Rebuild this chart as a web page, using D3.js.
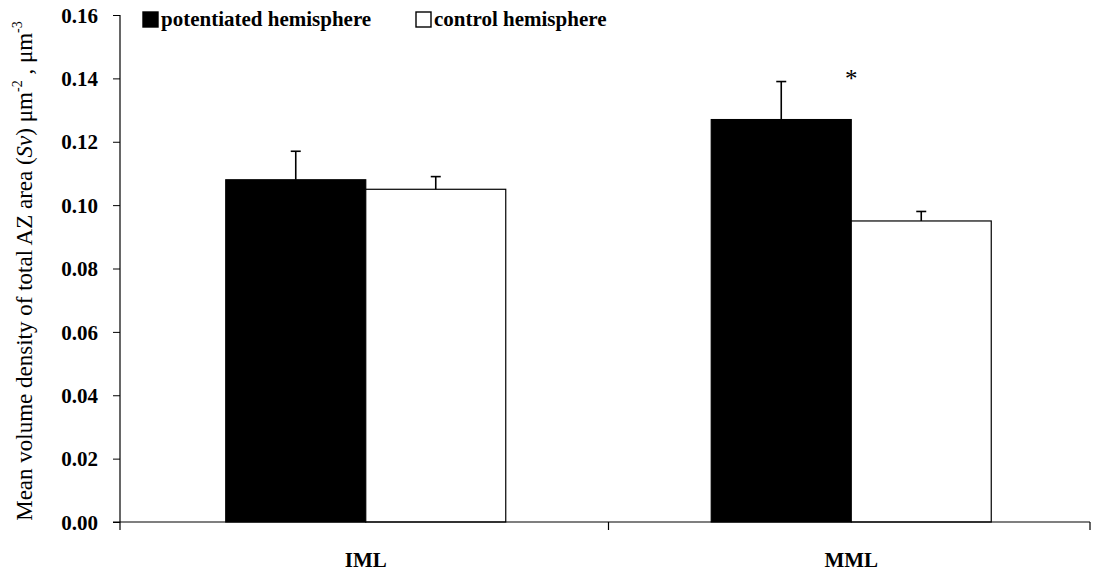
<!DOCTYPE html>
<html>
<head>
<meta charset="utf-8">
<script src="https://cdn.jsdelivr.net/npm/d3@7"></script>
<style>
  body { margin: 0; background: #fff; }
  svg { display: block; }
  text { font-family: "Liberation Serif", "Times New Roman", serif; fill: #000; }
</style>
</head>
<body>
<svg id="chart" width="1098" height="576"></svg>
<script>
// chart values
const categories = ["IML", "MML"];
const seriesNames = ["potentiated hemisphere", "control hemisphere"];
const potentiated = [0.108, 0.127];
const potentiatedErr = [0.009, 0.012];
const control = [0.105, 0.095];
const controlErr = [0.004, 0.003];
const yTickValues = [0, 0.02, 0.04, 0.06, 0.08, 0.10, 0.12, 0.14, 0.16];
const significant = [false, true];   // asterisk above the pair

const fills = ["#000", "#fff"];

const svg = d3.select("#chart");

// plot area
const plot = { left: 120, right: 1090, top: 15, bottom: 522 };

const y = d3.scaleLinear().domain([0, 0.16]).range([plot.bottom, plot.top]);
const x0 = d3.scaleBand().domain(categories).range([plot.left + 3, plot.right + 4]);
const x1 = d3.scaleBand().domain(seriesNames)
    .range([x0.bandwidth() / 2 - 140, x0.bandwidth() / 2 + 140]);

// rows built from the arrays
const rows = categories.map((c, i) => ({
    cat: c,
    sig: significant[i],
    bars: [
        { name: seriesNames[0], v: potentiated[i], e: potentiatedErr[i], fill: fills[0] },
        { name: seriesNames[1], v: control[i], e: controlErr[i], fill: fills[1] }
    ]
}));

// y axis
const yAxis = svg.append("g")
    .attr("transform", `translate(${plot.left},0)`)
    .call(d3.axisLeft(y).tickValues(yTickValues).tickSize(7).tickFormat(d3.format(".2f")));
yAxis.select(".domain").attr("stroke", "#000").attr("stroke-width", 1.2)
    .attr("d", `M0,${plot.top}V${plot.bottom}`);
yAxis.selectAll(".tick line").attr("stroke", "#000");
yAxis.selectAll(".tick text")
    .attr("x", -22).attr("dy", "0.34em")
    .attr("font-size", 21).attr("font-weight", "bold");

// bars
const groups = svg.append("g").selectAll("g")
    .data(rows).join("g")
    .attr("transform", d => `translate(${x0(d.cat)},0)`);

groups.selectAll("rect")
    .data(d => d.bars).join("rect")
    .attr("x", d => x1(d.name))
    .attr("y", d => y(d.v))
    .attr("width", x1.bandwidth())
    .attr("height", d => y(0) - y(d.v))
    .attr("fill", d => d.fill)
    .attr("stroke", "#000")
    .attr("stroke-width", 1.2);

// error bars (upper only)
const err = groups.selectAll("g.err")
    .data(d => d.bars).join("g").attr("class", "err");
err.append("line")
    .attr("x1", d => x1(d.name) + x1.bandwidth() / 2)
    .attr("x2", d => x1(d.name) + x1.bandwidth() / 2)
    .attr("y1", d => y(d.v))
    .attr("y2", d => y(d.v + d.e))
    .attr("stroke", "#000").attr("stroke-width", 1.6);
err.append("line")
    .attr("x1", d => x1(d.name) + x1.bandwidth() / 2 - 5)
    .attr("x2", d => x1(d.name) + x1.bandwidth() / 2 + 5)
    .attr("y1", d => y(d.v + d.e))
    .attr("y2", d => y(d.v + d.e))
    .attr("stroke", "#000").attr("stroke-width", 1.6);

// significance asterisk
groups.filter(d => d.sig).append("text")
    .attr("x", x1(seriesNames[1]))
    .attr("y", d => y(d3.max(d.bars, b => b.v + b.e)) + 5)
    .attr("text-anchor", "middle")
    .attr("font-size", 25)
    .text("*");

// x axis
svg.append("line")
    .attr("x1", 113).attr("x2", plot.right)
    .attr("y1", plot.bottom).attr("y2", plot.bottom)
    .attr("stroke", "#000").attr("stroke-width", 1.2);
const xTicks = [plot.left, ...categories.slice(1).map(c => x0(c)), plot.right];
svg.append("g").selectAll("line")
    .data(xTicks).join("line")
    .attr("x1", d => d).attr("x2", d => d)
    .attr("y1", plot.bottom).attr("y2", plot.bottom + 8)
    .attr("stroke", "#000").attr("stroke-width", 1.2);

svg.append("g").selectAll("text")
    .data(categories).join("text")
    .attr("x", d => x0(d) + x0.bandwidth() / 2)
    .attr("y", 567)
    .attr("text-anchor", "middle")
    .attr("font-size", 21).attr("font-weight", "bold")
    .text(d => d);

// y axis title
const title = svg.append("text")
    .attr("transform", "translate(32,271) rotate(-90)")
    .attr("text-anchor", "middle")
    .attr("font-size", 23);
title.append("tspan").text("Mean volume density of total AZ area (");
title.append("tspan").attr("font-style", "italic").text("Sv");
title.append("tspan").text(") \u03BCm");
title.append("tspan").attr("font-size", 14).attr("dy", -10).text("-2");
title.append("tspan").attr("dy", 10).text(" , \u03BCm");
title.append("tspan").attr("font-size", 14).attr("dy", -10).text("-3");

// legend
const legendX = [143, 416];
const legend = svg.append("g").selectAll("g")
    .data(seriesNames).join("g")
    .attr("transform", (d, i) => `translate(${legendX[i]},12)`);
legend.append("rect")
    .attr("width", 15).attr("height", 15)
    .attr("fill", (d, i) => fills[i])
    .attr("stroke", "#000").attr("stroke-width", 1.4);
legend.append("text")
    .attr("x", 18).attr("y", 14)
    .attr("font-size", 21).attr("font-weight", "bold")
    .text(d => d);
</script>
</body>
</html>
